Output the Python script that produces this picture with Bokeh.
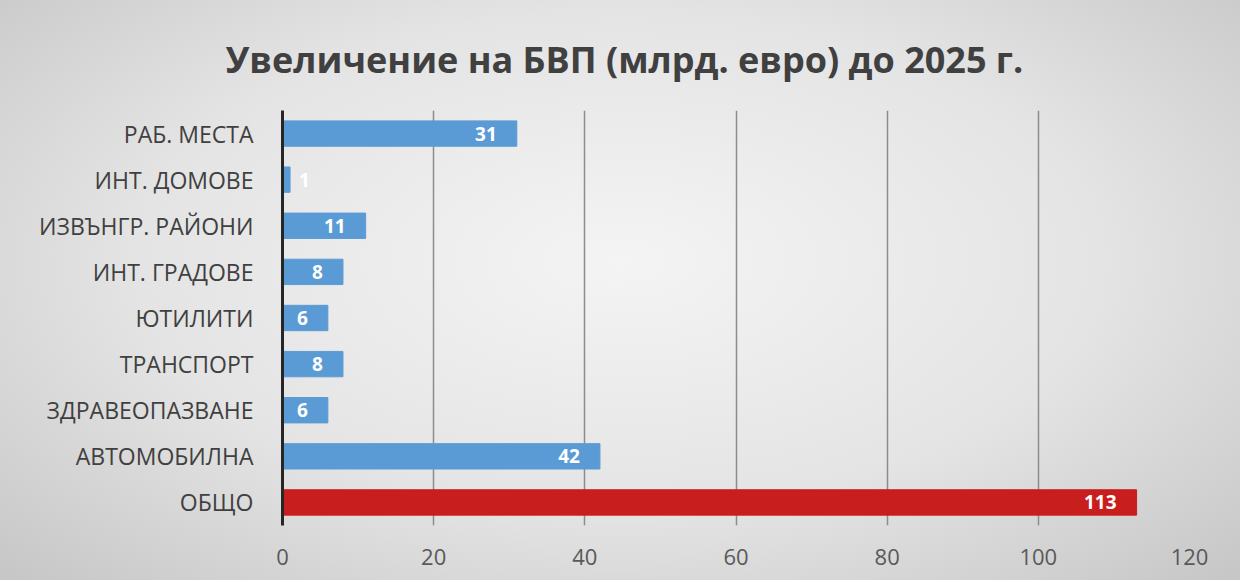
from bokeh.plotting import figure
from bokeh.models import ColumnDataSource, FactorRange, FixedTicker
from bokeh.core.properties import value
from bokeh.embed import file_html
from bokeh.resources import INLINE

categories = ["РАБ. МЕСТА", "ИНТ. ДОМОВЕ", "ИЗВЪНГР. РАЙОНИ", "ИНТ. ГРАДОВЕ",
              "ЮТИЛИТИ", "ТРАНСПОРТ", "ЗДРАВЕОПАЗВАНЕ", "АВТОМОБИЛНА", "ОБЩО"]
values = [31, 1, 11, 8, 6, 8, 6, 42, 113]
x_ticks = [0, 20, 40, 60, 80, 100, 120]
title_text = "Увеличение на БВП (млрд. евро) до 2025 г."

BLUE = "#5B9BD5"
RED = "#C81E1E"
colors = [RED if c == "ОБЩО" else BLUE for c in categories]
aligns = ["left" if v < 3 else "right" for v in values]
offsets = [9 if v < 3 else -20 for v in values]

src = ColumnDataSource(dict(cat=categories, val=values, color=colors,
                            lbl=[str(v) for v in values], align=aligns, off=offsets))

p = figure(width=1240, height=580, output_backend="svg", toolbar_location=None,
           y_range=FactorRange(*reversed(categories), range_padding=0.0),
           x_range=(0, 120), title=title_text)
p.min_border_left = 282
p.min_border_right = 51
p.min_border_top = 110
p.min_border_bottom = 55

p.styles = {"background": "radial-gradient(ellipse at 50% 45%, #f4f4f4 0%, #e4e4e4 55%, #c6c6c6 100%)"}
p.border_fill_color = None
p.background_fill_color = None
p.outline_line_color = None

p.title.align = "left"
p.title.text_font = "Open Sans"
p.title.text_font_style = "bold"
p.title.text_font_size = "36px"
p.title.text_color = "#404040"
p.title.offset = -57
p.title.standoff = 54

p.hbar(y="cat", right="val", left=0, height=0.55, color="color", source=src)

p.text(x="val", y="cat", text="lbl", source=src, text_align="align", x_offset="off",
       text_baseline="middle", text_color="white", text_font=value("Open Sans"),
       text_font_style="bold", text_font_size="19px")

p.xaxis.ticker = FixedTicker(ticks=x_ticks)
p.xaxis.axis_line_color = None
p.xaxis.major_tick_line_color = None
p.xaxis.minor_tick_line_color = None
p.xaxis.major_label_text_font = "Open Sans"
p.xaxis.major_label_text_font_size = "22px"
p.xaxis.major_label_text_color = "#595959"
p.xaxis.major_label_standoff = 17

p.yaxis.axis_line_color = "#262626"
p.yaxis.axis_line_width = 3
p.yaxis.major_tick_line_color = None
p.yaxis.minor_tick_line_color = None
p.yaxis.major_label_text_font = "Open Sans"
p.yaxis.major_label_text_font_size = "23px"
p.yaxis.major_label_text_color = "#404040"
p.yaxis.major_label_standoff = 23

p.ygrid.grid_line_color = None
p.xgrid.ticker = FixedTicker(ticks=x_ticks)
p.xgrid.grid_line_color = "#8c8c8c"
p.xgrid.grid_line_width = 1.5

open("out.html", "w").write(file_html(p, INLINE))
